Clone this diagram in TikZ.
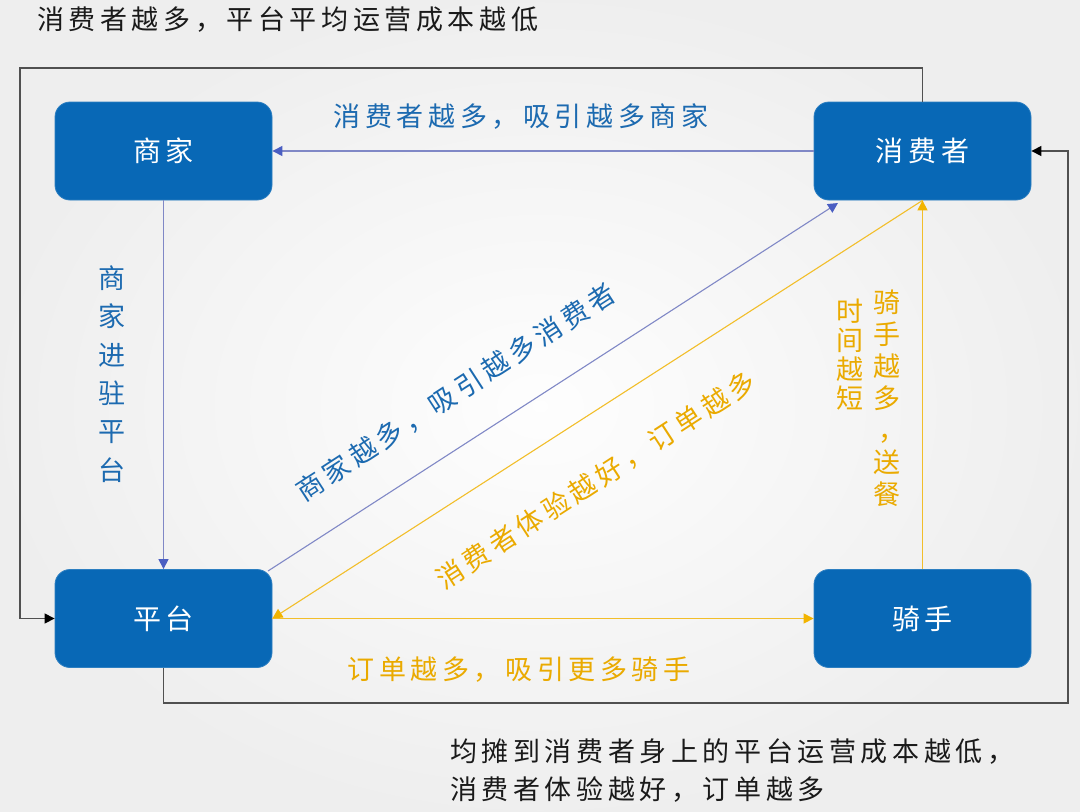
\documentclass[tikz,border=0pt]{standalone}
\usepackage{fontspec}
\newfontfamily\cjk[LetterSpace=17]{Noto Sans CJK SC}
\newfontfamily\cjkv{Noto Sans CJK SC}
\usetikzlibrary{arrows.meta}
\definecolor{boxblue}{HTML}{0868B6}
\definecolor{txtblue}{HTML}{1C6AB0}
\definecolor{lineblue}{HTML}{8088C6}
\definecolor{tipblue}{HTML}{4A5EC2}
\definecolor{yel}{HTML}{F2BE2A}
\definecolor{yeltxt}{HTML}{EAAA00}
\definecolor{tipyel}{HTML}{F2B400}
\definecolor{loopgray}{HTML}{505050}
\definecolor{ink}{HTML}{1A1A1A}
\begin{document}
\begin{tikzpicture}[x=1pt,y=-1pt,
  card/.style={fill=boxblue, draw=boxblue!85!white, line width=0.8pt, rounded corners=15pt,
    minimum width=217pt, minimum height=98pt, text=white, font=\cjk\fontsize{28}{32}\selectfont},
  bluelink/.style={draw=lineblue, line width=1.1pt, -{Triangle[length=10pt,width=10pt,color=tipblue]}},
  yellink/.style={draw=yel, line width=1.1pt, -{Triangle[length=10pt,width=10pt,color=tipyel]}},
  looplink/.style={draw=loopgray, line width=1.3pt, -{Triangle[length=10pt,width=10pt,color=black]}},
  bluetxt/.style={text=txtblue, font=\cjk\fontsize{27}{30}\selectfont, inner sep=0pt},
  yeltxtst/.style={text=yeltxt, font=\cjk\fontsize{27}{30}\selectfont, inner sep=0pt},
  blacktxt/.style={text=ink, font=\cjk\fontsize{27}{38}\selectfont, inner sep=0pt}
]
\useasboundingbox (0,0) rectangle (1080,812);
\shade[inner color=white!99!gray, outer color=gray!13] (0,0) rectangle (1080,812);

% boxes
\node[card] (sj) at (163.5,151) {商家};
\node[card] (xfz) at (922.5,151) {消费者};
\node[card] (pt) at (163.5,618.5) {平台};
\node[card] (qs) at (922.5,618.5) {骑手};

% outer loops
\coordinate (tl) at (20,68);
\coordinate (br) at (1068,703);
\draw[looplink] (xfz.north) |- (tl) |- (pt.west);
\draw[looplink] (pt.south) |- (br) |- (xfz.east);

% inner links
\draw[bluelink] (xfz.west) -- (sj.east);
\draw[bluelink] (sj.south) -- (pt.north);
\coordinate (bstart) at (268,571);
\coordinate (bend) at (838,203);
\draw[bluelink] (bstart) -- (bend);
\draw[yellink] (xfz.south) -- (pt.east);
\draw[yellink] (qs.north) -- (xfz.south);
\draw[yellink] (pt.east) -- (qs.west);

% texts
\node[blacktxt, anchor=west] (t1) at (37,20) {消费者越多，平台平均运营成本越低};
\node[bluetxt] (t2) at (521,117) {消费者越多，吸引越多商家};
\node[bluetxt, font=\cjkv\fontsize{27}{38.4}\selectfont, align=center] (t3) at (112,374) {商\\家\\进\\驻\\平\\台};
\node[bluetxt, rotate=33] (t4) at (456,392) {商家越多，吸引越多消费者};
\node[yeltxtst, rotate=33] (t5) at (596,480) {消费者体验越好，订单越多};
\node[yeltxtst, font=\cjkv\fontsize{27}{32}\selectfont, align=center] (t6) at (887,398.5) {骑\\手\\越\\多\\\hspace*{10pt}，\\送\\餐};
\node[yeltxtst, font=\cjkv\fontsize{27}{29}\selectfont, align=center] (t7) at (850,355) {时\\间\\越\\短};
\node[yeltxtst] (t8) at (519,670) {订单越多，吸引更多骑手};
\node[blacktxt, anchor=west, align=left] (t9) at (450,771) {均摊到消费者身上的平台运营成本越低，\\消费者体验越好，订单越多};
\end{tikzpicture}
\end{document}
